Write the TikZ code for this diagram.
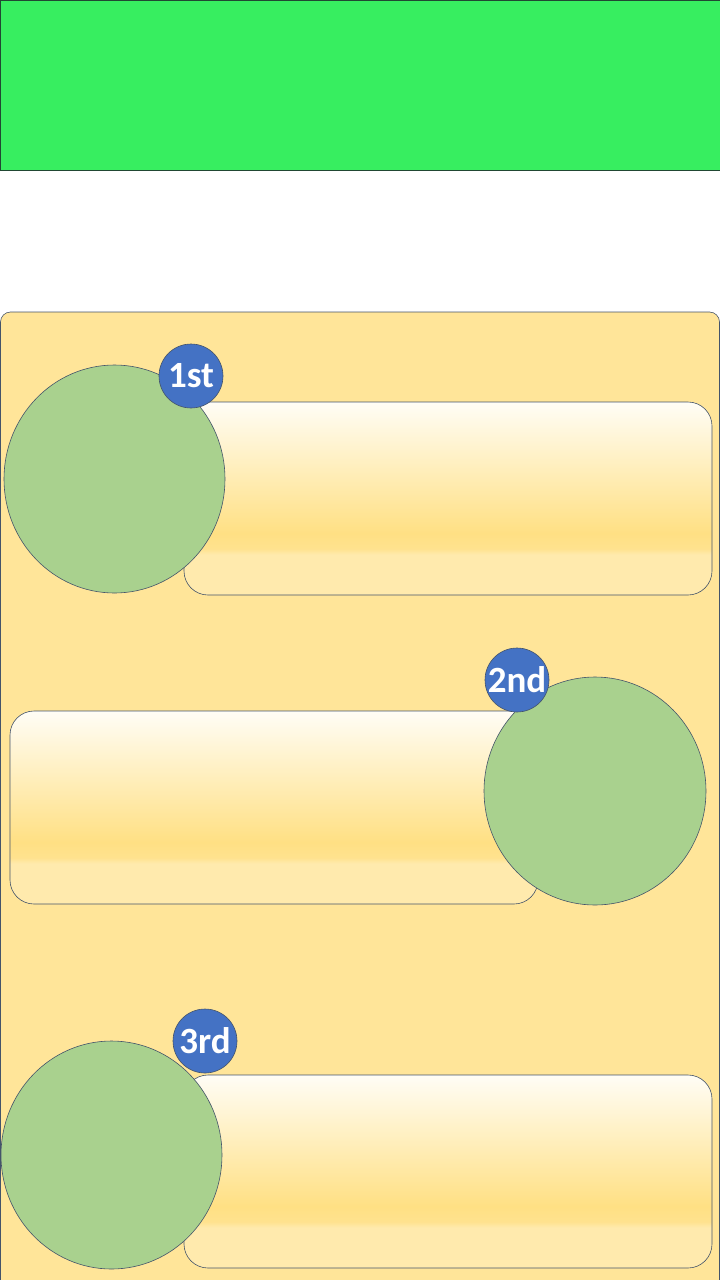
\documentclass[tikz,border=0pt]{standalone}
\usepackage{fontspec}
\newfontfamily\badgefont{Carlito}
\definecolor{topgreen}{HTML}{37EE60}
\definecolor{panel}{HTML}{FFE599}
\definecolor{circgreen}{HTML}{A9D18E}
\definecolor{badgeblue}{HTML}{4472C4}
\definecolor{edge}{HTML}{44546A}
\definecolor{gA}{HTML}{FFFDF6}
\definecolor{gB}{HTML}{FFF2CA}
\definecolor{gC}{HTML}{FFE084}
\definecolor{gD}{HTML}{FFE28E}
\definecolor{gE}{HTML}{FFEAAD}
\pgfdeclareverticalshading{boxgrad}{100bp}{color(0bp)=(gE); color(25bp)=(gE); color(35.5bp)=(gE); color(37bp)=(gD); color(41bp)=(gC); color(62bp)=(gB); color(75bp)=(gA); color(100bp)=(gA)}
\tikzset{
  outline/.style={draw=edge, line width=0.6pt},
  gradbox/.style={outline, rounded corners=24pt, shading=boxgrad},
  bigcirc/.style={outline, fill=circgreen},
  badge/.style={circle, outline, fill=badgeblue, minimum size=64pt, inner sep=0pt, text=white, font=\badgefont\bfseries\fontsize{37}{37}\selectfont}
}
\begin{document}
\begin{tikzpicture}[x=1pt,y=-1pt]
\useasboundingbox (0,0) rectangle (720,1280);
\fill[white] (0,0) rectangle (720,1280);
% top green banner
\draw[outline, draw=edge!80!green!60!black, fill=topgreen] (0.5,0.5) rectangle (724,170);
% yellow panel
\draw[outline, fill=panel, rounded corners=10pt] (0.5,312) rectangle (719.5,1290);
% row 1
\draw[gradbox] (184,402) rectangle (712,595);
\draw[bigcirc] (114.5,479) ellipse [x radius=110.5, y radius=114];
\node[badge] (b1) at (191,376) {1st};
% row 2
\draw[gradbox] (10,711) rectangle (538,904);
\draw[bigcirc] (595,791) ellipse [x radius=111, y radius=114];
\node[badge] (b2) at (517,680) {2nd};
% row 3
\draw[gradbox] (184,1075) rectangle (712,1268);
\draw[bigcirc] (111.5,1155) ellipse [x radius=110.5, y radius=114];
\node[badge] (b3) at (205,1041) {3rd};
\end{tikzpicture}
\end{document}
